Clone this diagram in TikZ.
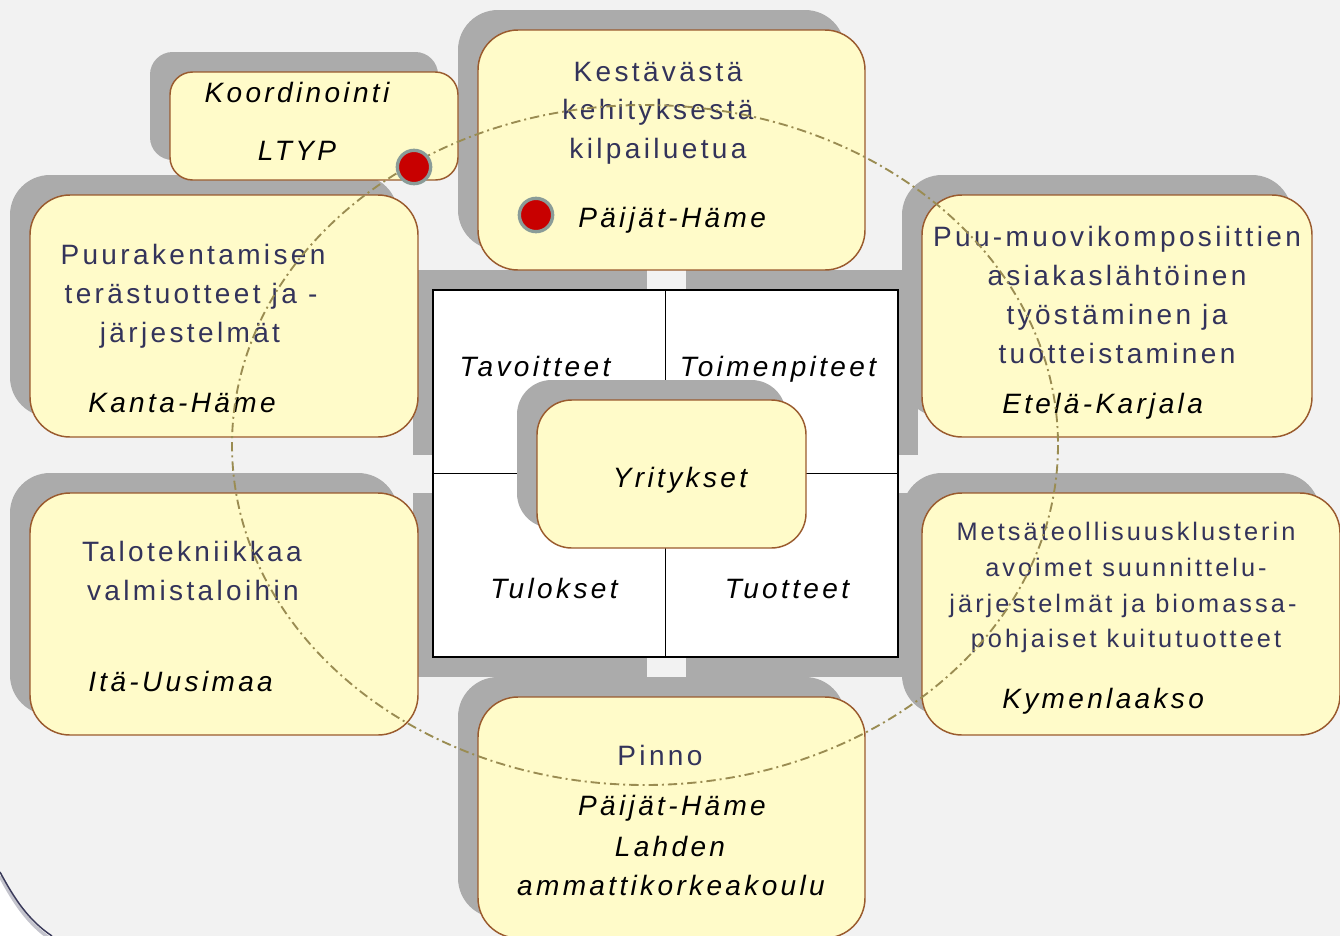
\documentclass[tikz,border=0pt]{standalone}
\usepackage{fontspec}
\newfontfamily\bxfont[LetterSpace=12]{Liberation Sans}
\usetikzlibrary{shadows}
\definecolor{bg}{HTML}{F2F2F2}
\definecolor{boxfill}{HTML}{FFFBC9}
\definecolor{boxline}{HTML}{9A5B2E}
\definecolor{shd}{HTML}{ABABAB}
\definecolor{txtc}{HTML}{33335A}
\definecolor{circ}{HTML}{9A8C52}
\definecolor{dotred}{HTML}{C80000}
\definecolor{dotring}{HTML}{8A9C98}
\definecolor{framec}{HTML}{3A3A5A}
\begin{document}
\begin{tikzpicture}[x=0.75pt,y=-0.75pt,
  box/.style={draw=boxline, fill=boxfill, line width=1.1pt, rounded corners=30pt,
    inner sep=0pt,
    drop shadow={shadow xshift=-15pt, shadow yshift=15pt, opacity=1, fill=shd}},
  txt/.style={font=\bxfont\fontsize{21}{25}\selectfont, text=txtc, inner sep=0pt, anchor=base},
  stxt/.style={font=\bxfont\fontsize{19}{23}\selectfont, text=txtc, inner sep=0pt, anchor=base},
  itx/.style={font=\bxfont\itshape\fontsize{21}{25}\selectfont, text=black, inner sep=0pt, anchor=base},
  dot/.style={circle, fill=dotred, draw=dotring, line width=2.5pt, minimum size=25pt, inner sep=0pt}
]
\useasboundingbox (0,0) rectangle (1340,936);
\fill[bg] (0,0) rectangle (1340,936);

% band around the central square
\fill[shd] (413,270) rectangle (918,677);
\fill[bg] (647,270) rectangle (686,677);
\fill[bg] (413,455) rectangle (918,493);

% central square
\node[draw=black, fill=white, line width=1.4pt, minimum width=348.75pt, minimum height=275.25pt, inner sep=0pt] (sq) at (665.5,473.5) {};
\draw[line width=1.2pt] (sq.north) -- (sq.south);
\draw[line width=1.2pt] (sq.west) -- (sq.east);
\node[box, rounded corners=26pt, minimum width=201.75pt, minimum height=111pt] (yrit) at (671.5,474) {};

% outer boxes
\node[box, minimum width=290.25pt, minimum height=180pt] (kest) at (671.5,150) {};
\node[box, minimum width=291pt, minimum height=181.5pt] (kanta) at (224,316) {};
\node[box, rounded corners=17pt, minimum width=216pt, minimum height=81pt] (koord) at (314,126) {};
\node[box, minimum width=292.5pt, minimum height=181.5pt] (etela) at (1117,316) {};
\node[box, minimum width=291pt, minimum height=181.5pt] (ita) at (224,614) {};
\node[box, minimum width=313.5pt, minimum height=181.5pt] (kymen) at (1131,614) {};
\node[box, minimum width=290.25pt, minimum height=180.75pt] (pinno) at (671.5,817.5) {};

% texts: Koordinointi
\node[itx] (k1) at (297,102) {Koordinointi};
\node[itx] (k2) at (297,160) {LTYP};
% top box
\node[txt] (t1) at (658,81) {Kestävästä};
\node[txt] (t2) at (658,119) {kehityksestä};
\node[txt] (t3) at (658,158) {kilpailuetua};
\node[itx, anchor=base west] (t4) at (578,227) {Päijät-Häme};
% left box 1
\node[txt] (l1) at (193,264) {Puurakentamisen};
\node[txt] (l2) at (191,303) {terästuotteet ja -};
\node[txt] (l3) at (190,342) {järjestelmät};
\node[itx, anchor=base west] (l4) at (88,412) {Kanta-Häme};
% left box 2
\node[txt] (m1) at (192,561) {Talotekniikkaa};
\node[txt] (m2) at (193,600) {valmistaloihin};
\node[itx, anchor=base west] (m3) at (88,691) {Itä-Uusimaa};
% right box 1
\node[txt] (r1) at (1117,246) {Puu-muovikomposiittien};
\node[txt] (r2) at (1117,285) {asiakaslähtöinen};
\node[txt] (r3) at (1117,324) {työstäminen ja};
\node[txt] (r4) at (1117,363) {tuotteistaminen};
\node[itx, anchor=base west] (r5) at (1002,413) {Etelä-Karjala};
% right box 2
\node[stxt] (s1) at (1126,540) {Metsäteollisuusklusterin};
\node[stxt] (s2) at (1126,576) {avoimet suunnittelu-};
\node[stxt] (s3) at (1123,612) {järjestelmät ja biomassa-};
\node[stxt] (s4) at (1126,647) {pohjaiset kuitutuotteet};
\node[itx, anchor=base west] (s5) at (1002,708) {Kymenlaakso};
% bottom box
\node[txt] (b1) at (660,765) {Pinno};
\node[itx] (b2) at (672,815) {Päijät-Häme};
\node[itx] (b3) at (670,856) {Lahden};
\node[itx] (b4) at (671,895) {ammattikorkeakoulu};
% central
\node[itx] (c1) at (535,376) {Tavoitteet};
\node[itx] (c2) at (778,376) {Toimenpiteet};
\node[itx] (c3) at (680,487) {Yritykset};
\node[itx] (c4) at (554,598) {Tulokset};
\node[itx] (c5) at (787,598) {Tuotteet};

% dash-dot ellipse
\draw[circ, line width=1.4pt, dash pattern=on 7pt off 3pt on 1.5pt off 3pt]
  (645,445) ellipse [x radius=413, y radius=340];

% red dots
\node[dot] (d1) at (414,167) {};
\node[dot] (d2) at (536,215) {};

% frame corner at bottom left
\fill[white] (0,872) .. controls (14,898) and (28,920) .. (52,936) -- (0,936) -- cycle;
\draw[color=framec!30, line width=2.5pt] (0,876) .. controls (14,902) and (28,924) .. (52,940);
\draw[framec, line width=1.1pt] (0,872) .. controls (14,898) and (28,920) .. (52,936);
\end{tikzpicture}
\end{document}
